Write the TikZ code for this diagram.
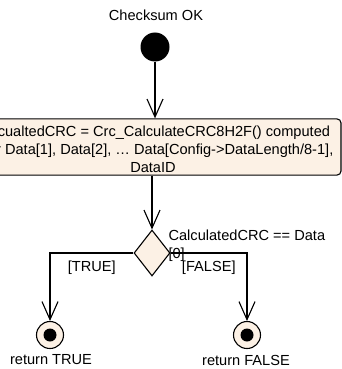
\documentclass[tikz,border=0pt]{standalone}
\usepackage{fontspec}
\setmainfont{Liberation Sans}
\usetikzlibrary{arrows.meta,shapes.geometric}
\definecolor{actfill}{RGB}{252,241,229}
\begin{document}
\begin{tikzpicture}[x=1pt, y=-1pt, line width=1.1pt,
  >={Straight Barb[length=18pt,width=16pt,line width=1.1pt]},
  every node/.style={font=\fontsize{14.6}{18}\selectfont},
  init node/.style={circle,fill=black,minimum size=29pt,inner sep=0pt},
  action node/.style={draw,fill=actfill,rounded corners=4pt,align=center,minimum width=376pt,minimum height=56pt,inner sep=2pt},
  decision node/.style={diamond,draw,fill=actfill,minimum width=36pt,minimum height=46pt,inner sep=0pt},
  final node/.style={circle,draw,fill=actfill,minimum size=27pt,inner sep=0pt,
    path picture={\fill[black] (path picture bounding box.center) circle (6.5pt);}}]
\useasboundingbox (0,0) rectangle (342,369);
\clip (0,0) rectangle (342,369);

\node (title) at (156,15) {Checksum OK};
\node [init node] (start) at (155,47) {};
\node [action node] (calc) at (153,147) {\rule{0pt}{16pt}CalcualtedCRC = Crc\_CalculateCRC8H2F() computed\\
  over Data[1], Data[2], \dots\ Data[Config->DataLength/8-1],\\ DataID};
\node [decision node] (check) at (152,253) {};
\node [anchor=north west,align=left,inner sep=0pt] (guard) at (168,229) {CalculatedCRC == Data\\{[0]}};
\node [final node] (rettrue) at (50,335) {};
\node [final node] (retfalse) at (247,335) {};
\node (lbltrue) at (51,360) {return TRUE};
\node (lblfalse) at (246,360) {return FALSE};

\draw [->] (start) -- (start |- calc.north);
\draw [->] (check |- calc.south) -- (check.north);
\draw [->] (check.west) -| node [pos=0.25,below=4pt] {[TRUE]} (rettrue);
\draw [->] (check.east) -| node [pos=0.25,below=4pt] {[FALSE]} (retfalse);
\end{tikzpicture}
\end{document}
